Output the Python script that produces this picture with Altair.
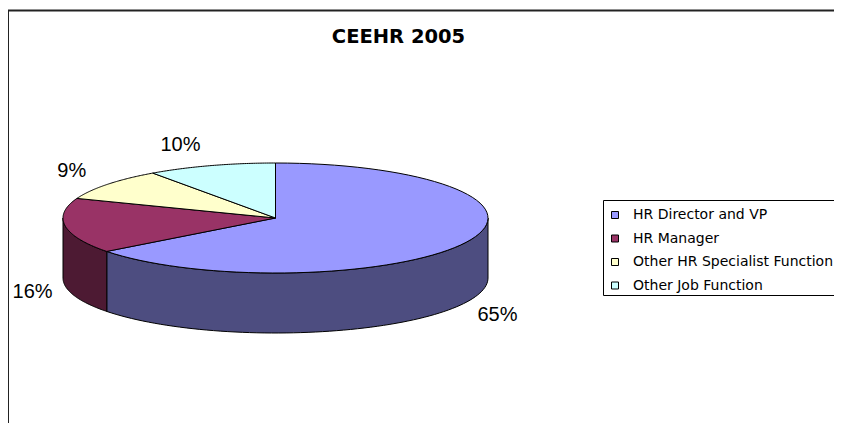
import altair as alt
import pandas as pd

# ---- data ----
categories = ["HR Director and VP", "HR Manager", "Other HR Specialist Function", "Other Job Function"]
shares = [64.6, 16.2, 9.4, 9.8]
top_colors = ["#9999FF", "#993366", "#FFFFCC", "#CCFFFF"]
side_colors = ["#4D4D80", "#4D1A33", "#80805F", "#5F8080"]
title_text = "CEEHR 2005"

# ---- geometry settings ----
N = 72            # points per arc
DEPTH = 60 / 55   # side height in units of the vertical radius
W, H = 826, 415
CX, CY, RX, RY = 267.5, 210.0, 212.5, 55.0
XDOM = [-CX / RX, (W - CX) / RX]
YDOM = [(CY - H) / RY, CY / RY]

slices = pd.DataFrame({
    "cat": categories,
    "share": shares,
    "side": side_colors,
})
tot = slices["share"].sum()
slices["end"] = slices["share"].cumsum() / tot
slices["start"] = slices["end"] - slices["share"] / tot
slices["label"] = slices["share"].round().astype(int).astype(str) + "%"

top_df = slices.merge(pd.DataFrame({"k": list(range(-1, N + 1))}), how="cross")
side_df = slices.merge(pd.DataFrame({"t": list(range(0, N + 1))}), how="cross").merge(
    pd.DataFrame({"edge": [0, 1]}), how="cross")

xs = alt.Scale(domain=XDOM, nice=False, zero=False)
ys = alt.Scale(domain=YDOM, nice=False, zero=False)

sides = alt.Chart(side_df).transform_calculate(
    a0="max(datum.start, 0.25)", a1="min(datum.end, 0.75)"
).transform_filter("datum.a1 > datum.a0").transform_calculate(
    ang="2*PI*(datum.a0 + (datum.a1 - datum.a0) * datum.t / %d)" % N
).transform_calculate(
    px="sin(datum.ang)",
    py="cos(datum.ang) - datum.edge * %f" % DEPTH,
    ord="datum.edge == 0 ? datum.t : %d - datum.t" % (2 * N + 1),
).mark_line(interpolate="linear-closed", stroke="black", strokeWidth=1, strokeJoin="round").encode(
    x=alt.X("px:Q", scale=xs, axis=None),
    y=alt.Y("py:Q", scale=ys, axis=None),
    fill=alt.Fill("side:N", scale=None, legend=None),
    detail="cat:N",
    order=alt.Order("ord:Q"),
)

tops = alt.Chart(top_df).transform_calculate(
    ang="2*PI*(datum.start + (datum.end - datum.start) * max(datum.k, 0) / %d)" % N
).transform_calculate(
    px="datum.k < 0 ? 0 : sin(datum.ang)",
    py="datum.k < 0 ? 0 : cos(datum.ang)",
).mark_line(interpolate="linear-closed", stroke="black", strokeWidth=1, strokeJoin="round").encode(
    x=alt.X("px:Q", scale=xs, axis=None),
    y=alt.Y("py:Q", scale=ys, axis=None),
    fill=alt.Fill("cat:N", scale=alt.Scale(domain=categories, range=top_colors),
                  legend=alt.Legend(
                      title=None, orient="none", legendX=600, legendY=200,
                      padding=0,
                      symbolType="square", symbolSize=49, symbolStrokeColor="black",
                      symbolStrokeWidth=1, symbolOpacity=1,
                      labelFont="DejaVu Sans", labelFontSize=14, labelColor="black",
                      labelOffset=11, rowPadding=9.5, labelLimit=400,
                  )),
    detail="cat:N",
    order=alt.Order("k:Q"),
)

label_base = alt.Chart(slices).transform_calculate(
    mid="PI*(datum.start + datum.end)"
).transform_calculate(
    px="sin(datum.mid) * (1.06 + 0.11 * max(cos(datum.mid), 0))",
    py="cos(datum.mid)*1.4 - (cos(datum.mid) < 0 ? %f : 0)" % (DEPTH + 2.5 / RY),
)
label_enc = dict(
    x=alt.X("px:Q", scale=xs, axis=None),
    y=alt.Y("py:Q", scale=ys, axis=None),
    text="label:N",
)
labels_right = label_base.transform_filter("sin(datum.mid) >= 0").mark_text(
    font="Liberation Sans", fontSize=20, color="black", align="left", baseline="middle"
).encode(**label_enc)
labels_left = label_base.transform_filter("sin(datum.mid) < 0").mark_text(
    font="Liberation Sans", fontSize=20, color="black", align="right", baseline="middle"
).encode(**label_enc)

one = pd.DataFrame({"t": [title_text]})
title = alt.Chart(one).mark_text(font="DejaVu Sans", fontWeight="bold", fontSize=19.5,
                                 color="black", align="center", baseline="middle").encode(
    x=alt.value(390.5), y=alt.value(28.5), text="t:N")

legend_box = alt.Chart(one).mark_rect(fill="white", stroke="black", strokeWidth=1).encode(
    x=alt.value(595.5), x2=alt.value(W + 10), y=alt.value(192.5), y2=alt.value(287.5))

top_border = alt.Chart(one).mark_rule(color="#222222", strokeWidth=2).encode(
    x=alt.value(0), x2=alt.value(W + 10), y=alt.value(2.5))
left_border = alt.Chart(one).mark_rule(color="#222222", strokeWidth=1).encode(
    x=alt.value(0.5), y=alt.value(2), y2=alt.value(H + 10))

chart = alt.layer(legend_box, sides, tops, labels_right, labels_left, title,
                  top_border, left_border).resolve_scale(
    fill="independent"
).properties(
    width=W, height=H, padding=0,
    autosize=alt.AutoSizeParams(type="none"),
).configure_view(stroke=None)

chart.save("out.html", embed_options={"renderer": "svg", "actions": False})
